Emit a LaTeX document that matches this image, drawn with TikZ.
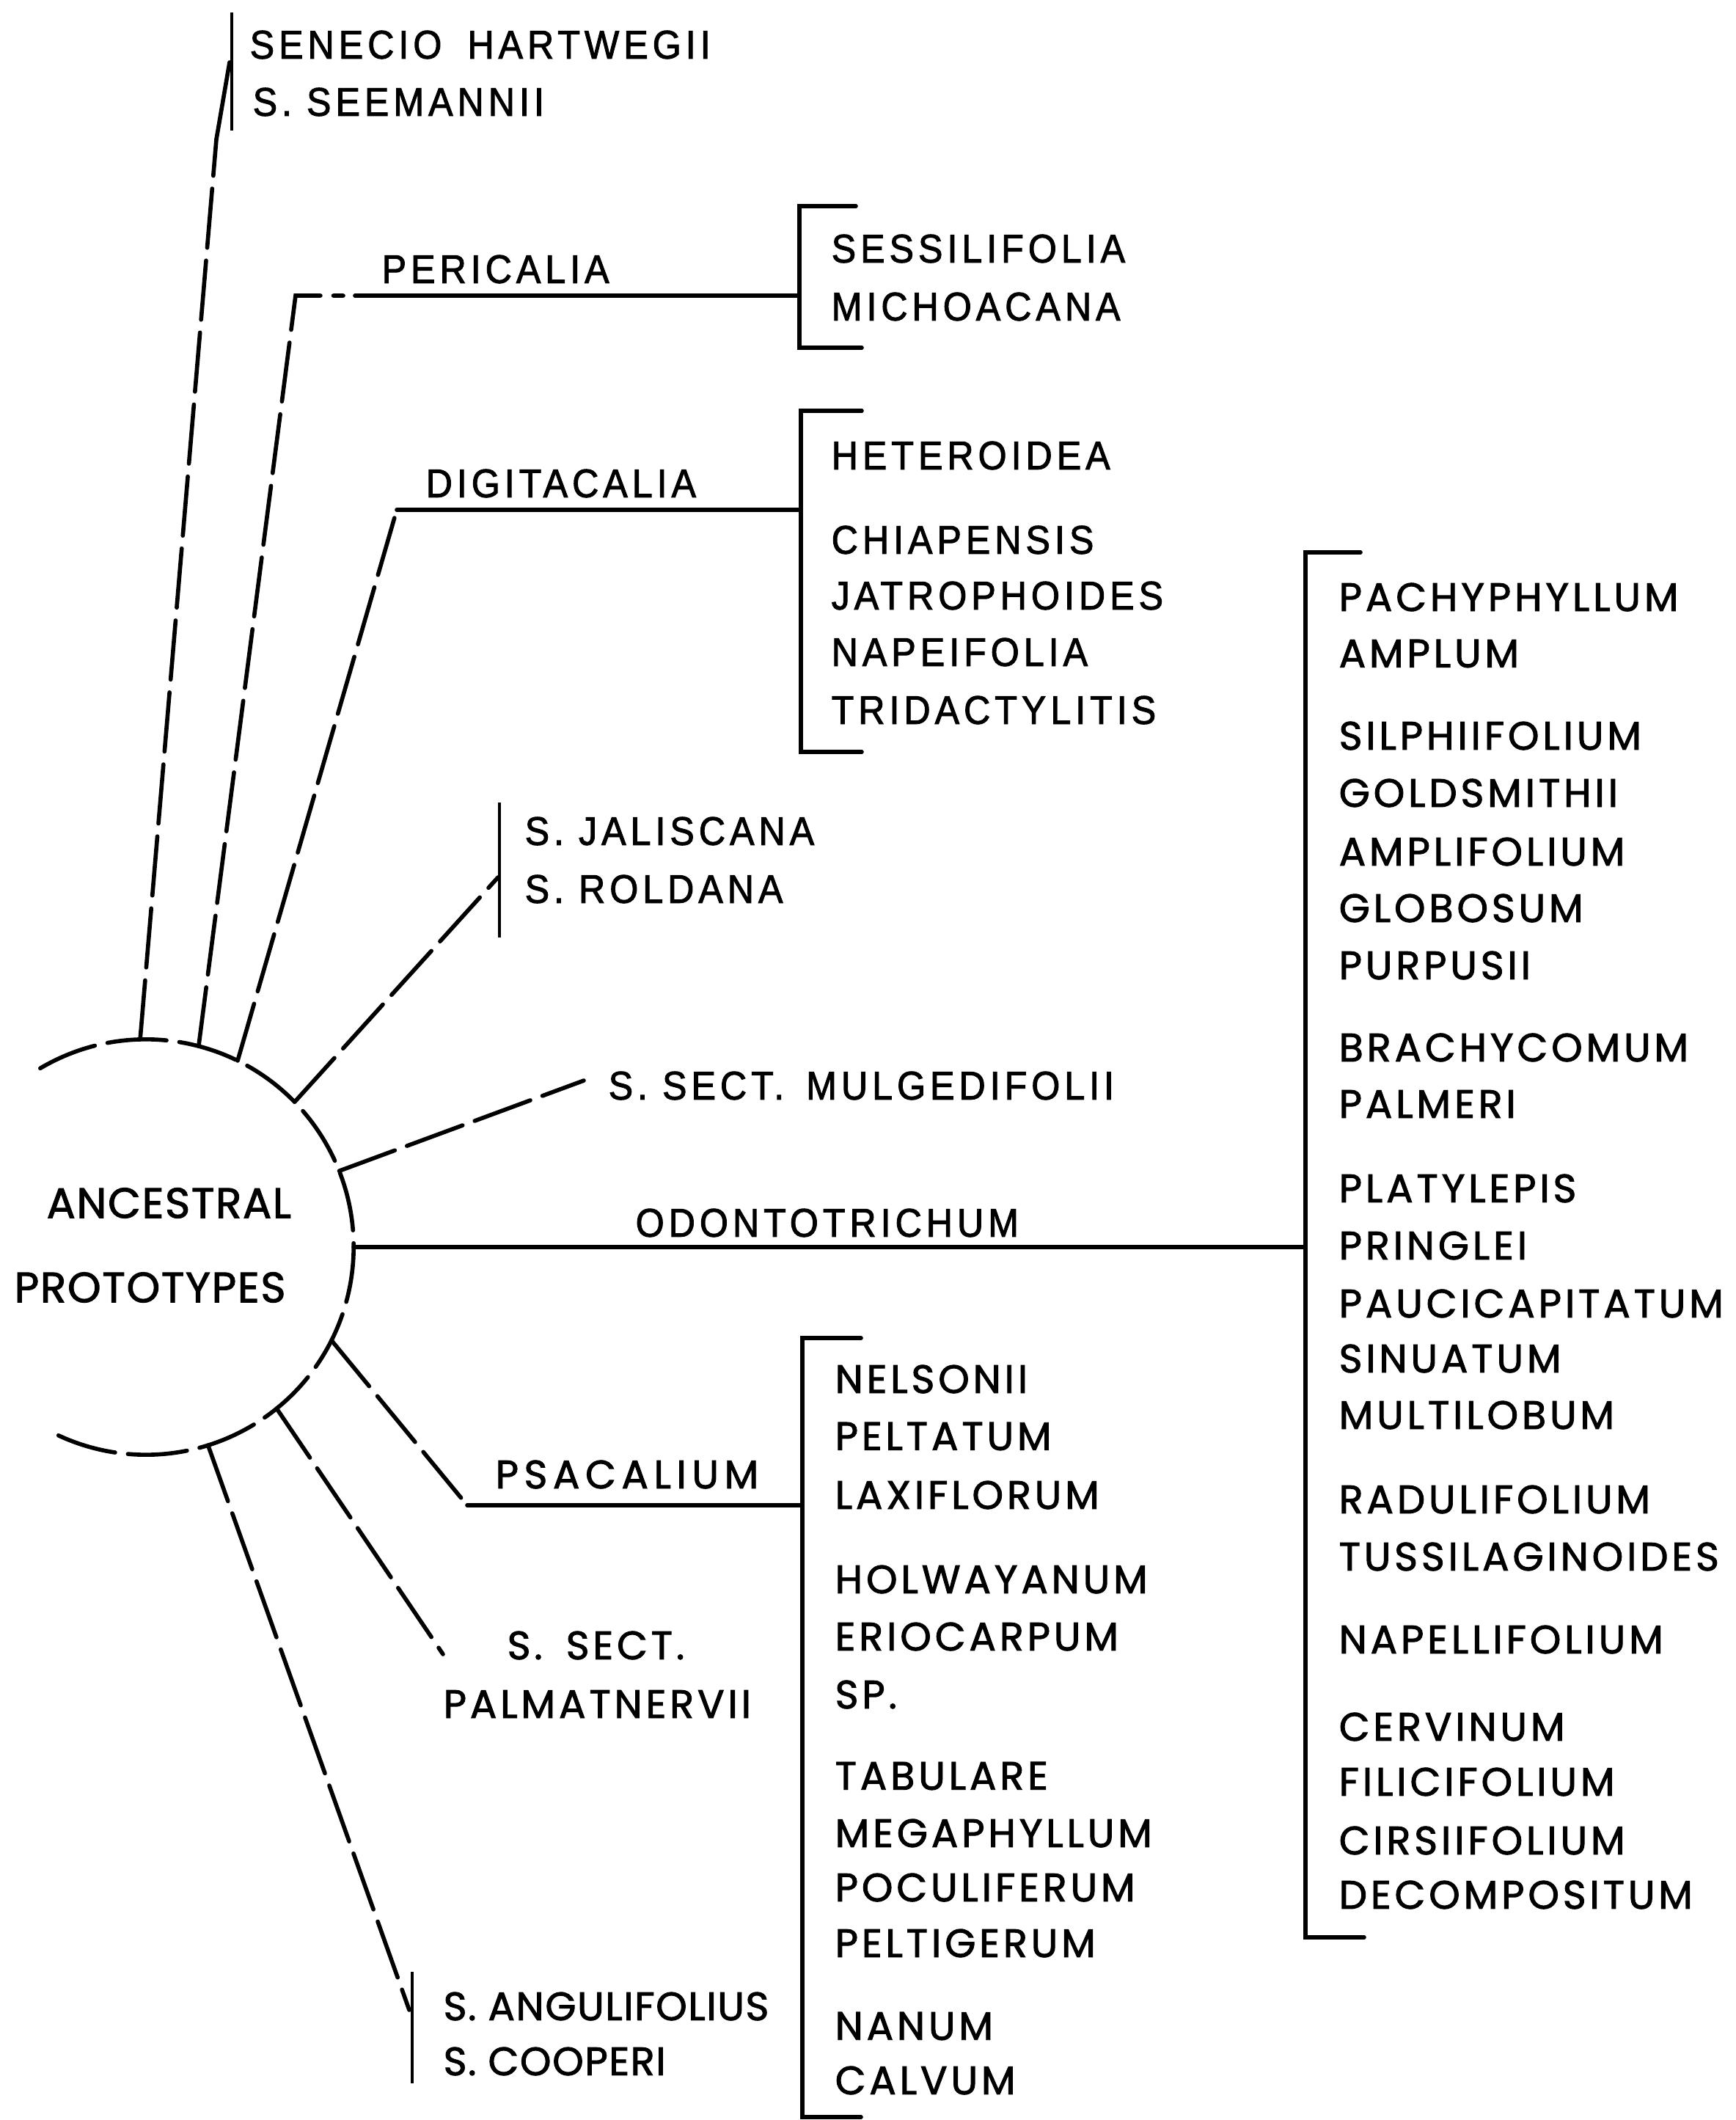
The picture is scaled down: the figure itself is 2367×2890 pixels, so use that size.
\documentclass[tikz,border=0pt]{standalone}
\usepackage{fontspec}
\setmainfont{Liberation Sans}
\newfontfamily\condfont[LetterSpace=11,FakeStretch=0.92,FakeBold=1.8]{Liberation Sans}
\newfontfamily\widefont[LetterSpace=9,FakeBold=1.8]{Poppins}
\newfontfamily\widefontn[LetterSpace=3,FakeBold=1.8]{Poppins}
\usetikzlibrary{calc}
\tikzset{
  lbl/.style={anchor=west, inner sep=0pt, font=\condfont\fontsize{15.5}{17}\selectfont},
  wlbl/.style={anchor=west, inner sep=0pt, font=\widefont\fontsize{15.4}{17}\selectfont},
  nlbl/.style={anchor=west, inner sep=0pt, font=\widefontn\fontsize{15.4}{17}\selectfont},
  ln/.style={line width=1.6pt, line cap=round},
  dln/.style={ln, dash pattern=on 23pt off 5pt},
  barline/.style={line width=1.3pt},
}
\begin{document}
\begin{tikzpicture}
\begin{scope}[x=0.01cm,y=-0.01cm]
\useasboundingbox (0,0) rectangle (2367,2890);
% circle of ancestral prototypes
\coordinate (c) at (199,1700);
\draw[dln] ($(c)+(120.6:2.83cm)$) arc[start angle=120.6, end angle=-116.2, radius=2.83cm];
\node[nlbl,font=\widefontn\fontsize{16.5}{18}\selectfont] (anc) at (63,1640) {ANCESTRAL};
\node[nlbl,font=\widefontn\fontsize{16.5}{18}\selectfont] (pro) at (19,1755) {PROTOTYPES};
% attachment points on the circle
\coordinate (s1) at ($(c)+(91.6:2.83cm)$);
\coordinate (s2) at ($(c)+(75.3:2.83cm)$);
\coordinate (s3) at ($(c)+(63.8:2.83cm)$);
\coordinate (s4) at ($(c)+(44.3:2.83cm)$);
\coordinate (s5) at ($(c)+(21.5:2.83cm)$);
\coordinate (s6) at ($(c)+(0:2.83cm)$);
\coordinate (s7) at ($(c)+(-26.7:2.83cm)$);
\coordinate (s8) at ($(c)+(-51:2.83cm)$);
\coordinate (s9) at ($(c)+(-72.6:2.83cm)$);

% Senecio hartwegii / seemannii
\coordinate (sen1) at (295,190);
\coordinate (sen2) at (313,85);
\coordinate (senT) at (316,17);
\coordinate (senB) at (316,178);
\draw[dln] (s1) -- (sen1);
\draw[ln] (sen1) -- (sen2);
\draw[barline] (senT) -- (senB);
\node[lbl] (sen) at (340,61) {SENECIO\hspace{0.35cm}HARTWEGII};
\node[lbl] (see) at (344,139) {S.\hspace{0.2cm}SEEMANNII};

% Pericalia
\coordinate (per1) at (403,403);
\coordinate (per2) at (468,403);
\coordinate (per3) at (484,403);
\coordinate (perj) at (1090,403);
\coordinate (pbT) at (1167,281);
\coordinate (pbTc) at (1090,281);
\coordinate (pbBc) at (1090,474);
\coordinate (pbB) at (1175,474);
\draw[dln] (s2) -- (per1) -- (per2);
\draw[ln] (per3) -- (perj);
\draw[ln] (pbT) -- (pbTc) -- (pbBc) -- (pbB);
\node[lbl] (per) at (520,367) {PERICALIA};
\node[lbl] (ses) at (1133,339) {SESSILIFOLIA};
\node[lbl] (mic) at (1133,418) {MICHOACANA};

% Digitacalia
\coordinate (dig1) at (541,695);
\coordinate (digj) at (1092,695);
\coordinate (dbT) at (1175,560);
\coordinate (dbTc) at (1092,560);
\coordinate (dbBc) at (1092,1025);
\coordinate (dbB) at (1175,1025);
\draw[dln] (s3) -- (dig1);
\draw[ln] (dig1) -- (digj);
\draw[ln] (dbT) -- (dbTc) -- (dbBc) -- (dbB);
\node[lbl] (dig) at (580,659) {DIGITACALIA};
\node[lbl] (het) at (1133,621) {HETEROIDEA};
\node[lbl] (chi) at (1133,736) {CHIAPENSIS};
\node[lbl] (jat) at (1133,812) {JATROPHOIDES};
\node[lbl] (nap) at (1133,889) {NAPEIFOLIA};
\node[lbl] (tri) at (1133,968) {TRIDACTYLITIS};

% S. jaliscana / roldana
\coordinate (jal1) at (679,1196);
\coordinate (jbT) at (681,1094);
\coordinate (jbB) at (681,1278);
\draw[dln] (s4) -- (jal1);
\draw[barline] (jbT) -- (jbB);
\node[lbl] (jal) at (715,1133) {S.\hspace{0.2cm}JALISCANA};
\node[lbl] (rol) at (715,1212) {S.\hspace{0.2cm}ROLDANA};

% S. sect. Mulgedifolii
\coordinate (mul1) at (796,1473);
\draw[dln] (s5) -- (mul1);
\node[lbl] (mul) at (829,1480) {S.\hspace{0.2cm}SECT.\hspace{0.3cm}MULGEDIFOLII};

% Odontotrichum
\coordinate (odj) at (1780,1700);
\coordinate (obT) at (1855,753);
\coordinate (obTc) at (1780,753);
\coordinate (obBc) at (1780,2641);
\coordinate (obB) at (1860,2641);
\draw[ln] (s6) -- (odj);
\draw[ln] (obT) -- (obTc) -- (obBc) -- (obB);
\node[lbl] (odo) at (866,1667) {ODONTOTRICHUM};
\foreach \n/\y/\t in {o1/814/PACHYPHYLLUM, o2/891/AMPLUM, o3/1003/SILPHIIFOLIUM,
  o4/1081/GOLDSMITHII, o5/1161/AMPLIFOLIUM, o6/1238/GLOBOSUM, o7/1316/PURPUSII,
  o8/1428/BRACHYCOMUM, o9/1505/PALMERI, o10/1620/PLATYLEPIS, o11/1698/PRINGLEI,
  o12/1777/PAUCICAPITATUM, o13/1852/SINUATUM, o14/1929/MULTILOBUM,
  o15/2044/RADULIFOLIUM, o16/2122/TUSSILAGINOIDES, o17/2235/NAPELLIFOLIUM,
  o18/2354/CERVINUM, o19/2429/FILICIFOLIUM, o20/2509/CIRSIIFOLIUM,
  o21/2583/DECOMPOSITUM}
  \node[wlbl] (\n) at (1825,\y) {\t};

% Psacalium
\coordinate (psa1) at (637,2052);
\coordinate (psaj) at (1094,2052);
\coordinate (qbT) at (1174,1824);
\coordinate (qbTc) at (1094,1824);
\coordinate (qbBc) at (1094,2886);
\coordinate (qbB) at (1174,2886);
\draw[dln] (s7) -- (psa1);
\draw[ln] (psa1) -- (psaj);
\draw[ln] (qbT) -- (qbTc) -- (qbBc) -- (qbB);
\node[wlbl] (psa) at (675,2010) {\addfontfeature{LetterSpace=14}PSACALIUM};
\foreach \n/\y/\t in {p1/1880/NELSONII, p2/1958/PELTATUM, p3/2038/LAXIFLORUM,
  p4/2153/HOLWAYANUM, p5/2231/ERIOCARPUM, p6/2310/SP., p7/2421/TABULARE,
  p8/2499/MEGAPHYLLUM, p9/2573/POCULIFERUM, p10/2649/PELTIGERUM,
  p11/2762/NANUM, p12/2836/CALVUM}
  \node[wlbl] (\n) at (1138,\y) {\t};

% S. sect. Palmatnervii
\coordinate (pal1) at (604,2255);
\draw[dln] (s8) -- (pal1);
\node[wlbl] (pal1t) at (691,2243) {S.\hspace{0.32cm}SECT.};
\node[wlbl] (pal2t) at (604,2323) {PALMATNERVII};

% S. angulifolius / cooperi
\coordinate (ang1) at (558,2740);
\coordinate (abT) at (562,2688);
\coordinate (abB) at (562,2840);
\draw[dln] (s9) -- (ang1);
\draw[barline] (abT) -- (abB);
\node[nlbl] (ang) at (604,2735) {S. ANGULIFOLIUS};
\node[nlbl] (coo) at (604,2810) {S. COOPERI};
\end{scope}
\end{tikzpicture}
\end{document}
